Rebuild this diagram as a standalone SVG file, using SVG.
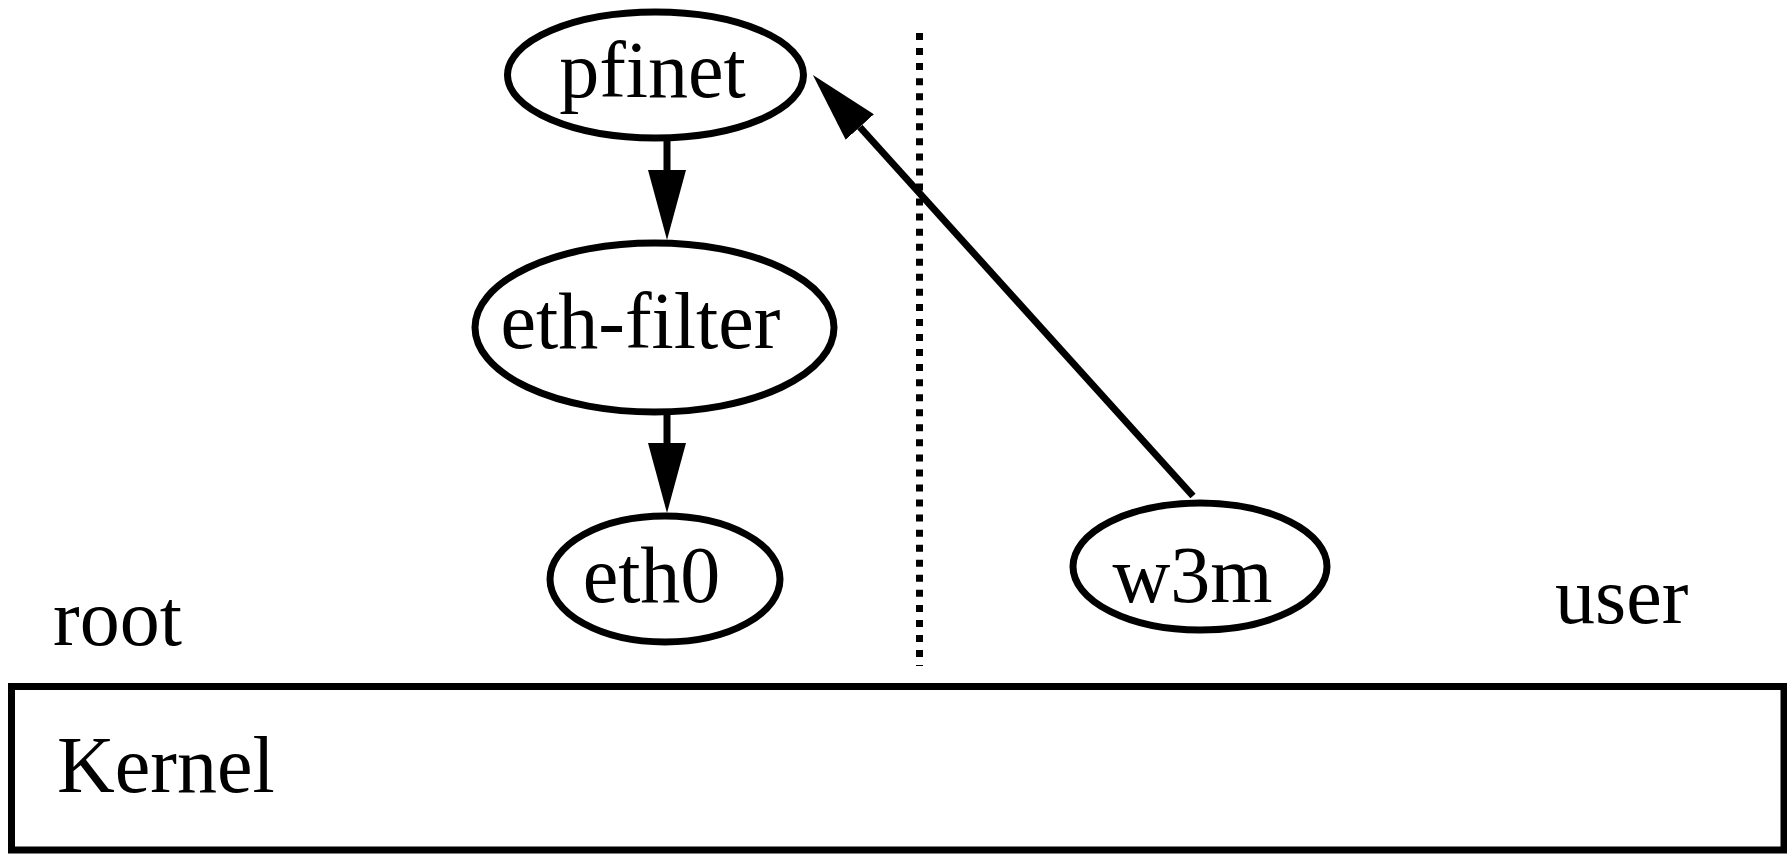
<svg xmlns="http://www.w3.org/2000/svg" width="1787" height="854" viewBox="0 0 1787 854">
  <style>
    .node { fill: #fff; stroke: #000; stroke-width: 7; }
    .edge { fill: none; stroke: #000; stroke-width: 7; }
    .lbl { font-family: "Liberation Serif", "Times New Roman", serif; font-size: 80px; fill: #000; }
    .sep { fill: none; stroke: #000; stroke-width: 7; stroke-dasharray: 7 8.05; }
  </style>
  <defs>
    <marker id="head" markerUnits="userSpaceOnUse" viewBox="0 0 70 38" markerWidth="70" markerHeight="38" refX="0" refY="19" orient="auto">
      <path d="M0,0 L70,19 L0,38 Z" fill="#000"/>
    </marker>
  </defs>

  <!-- privilege boundary -->
  <line class="sep" x1="919.5" y1="33" x2="919.5" y2="666"/>

  <!-- kernel -->
  <g id="kernel">
    <rect x="11.5" y="686.5" width="1772.5" height="163.5" fill="none" stroke="#000" stroke-width="7"/>
    <text class="lbl" x="57" y="792">Kernel</text>
  </g>

  <!-- domain labels -->
  <text id="root-label" class="lbl" x="53" y="645">root</text>
  <text id="user-label" class="lbl" x="1555" y="623">user</text>

  <!-- connectors -->
  <g id="edges">
    <line class="edge" x1="667" y1="138" x2="667" y2="170" marker-end="url(#head)"/>
    <line class="edge" x1="667" y1="412" x2="667" y2="443" marker-end="url(#head)"/>
    <line class="edge" x1="1193" y1="496" x2="859.8" y2="127" marker-end="url(#head)"/>
  </g>

  <!-- nodes -->
  <g id="pfinet">
    <ellipse class="node" cx="655.5" cy="75" rx="148" ry="63"/>
    <text class="lbl" x="652.5" y="97" text-anchor="middle">pfinet</text>
  </g>
  <g id="eth-filter">
    <ellipse class="node" cx="654.5" cy="327.5" rx="179.5" ry="84.5"/>
    <text class="lbl" x="640.5" y="348" text-anchor="middle">eth-filter</text>
  </g>
  <g id="eth0">
    <ellipse class="node" cx="665" cy="579" rx="115" ry="63"/>
    <text class="lbl" x="651.5" y="602" text-anchor="middle">eth0</text>
  </g>
  <g id="w3m">
    <ellipse class="node" cx="1200" cy="566.5" rx="127" ry="63.5"/>
    <text class="lbl" x="1192.5" y="602" text-anchor="middle">w3m</text>
  </g>
</svg>
